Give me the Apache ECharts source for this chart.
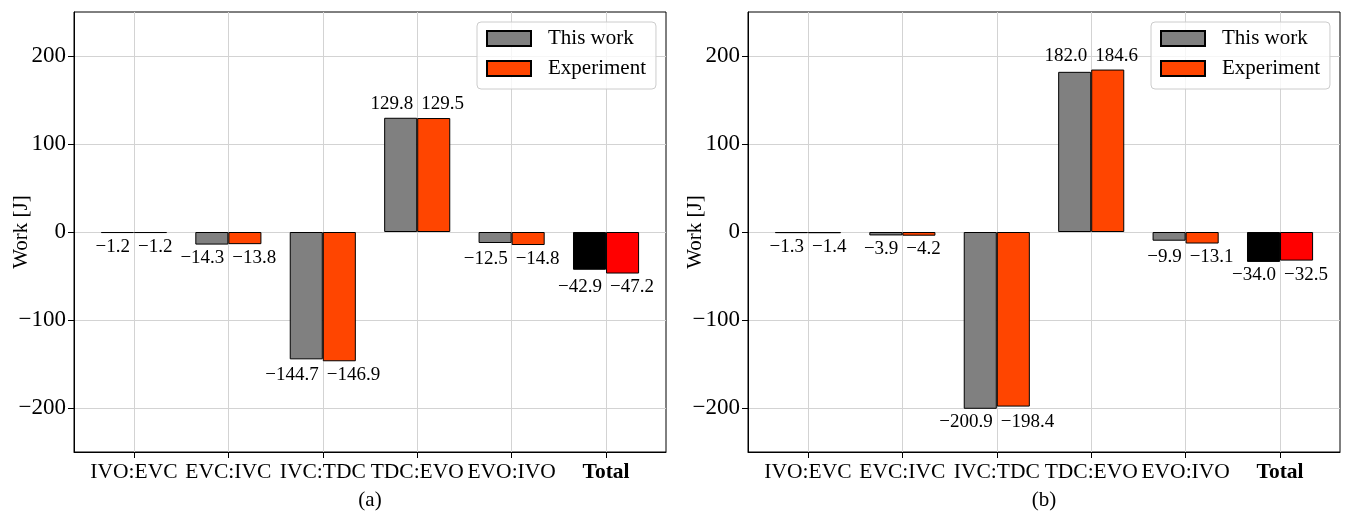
<!DOCTYPE html>
<html><head><meta charset="utf-8">
<script src="https://cdn.jsdelivr.net/npm/echarts@6/dist/echarts.min.js"></script>
<style>html,body{margin:0;padding:0;background:#fff}#c{width:1347px;height:516px}</style>
</head><body><div id="c"></div>
<script>
const categories = ['IVO:EVC','EVC:IVC','IVC:TDC','TDC:EVO','EVO:IVO','Total'];
const seriesNames = ['This work','Experiment'];
const workA_model = [-1.2,-14.3,-144.7,129.8,-12.5,-42.9];
const workA_exp   = [-1.2,-13.8,-146.9,129.5,-14.8,-47.2];
const workB_model = [-1.3,-3.9,-200.9,182.0,-9.9,-34.0];
const workB_exp   = [-1.4,-4.2,-198.4,184.6,-13.1,-32.5];
const yTicks = [-200,-100,0,100,200];
const panelLabels = ['(a)','(b)'];

const FONT = 'Liberation Serif';
const yMin = -250, yMax = 250, xMin = -0.635, xMax = 5.635;
const gridW = 592, gridH = 440, gridTop = 12;
const gridLefts = [74, 748];
const kY = gridH / (yMax - yMin);
const kX = gridW / (xMax - xMin);
const barHalf = kX * 0.35 / 2;
const colors = ['#808080', '#ff4500'];
const totalColors = ['#000000', '#ff0000'];

function fmt(v){ return (v < 0 ? '\u2212' : '') + Math.abs(v).toFixed(1); }

function buildData(vals, other, side){
  return vals.map((v, i) => {
    const o = other[i];
    const neg = v < 0;
    let dy;
    if (neg) { const m = Math.min(v, o); dy = (v - m) * kY; }
    else { const m = Math.max(v, o); dy = -(m - v) * kY; }
    const item = {
      value: [i, v],
      label: {
        position: neg ? 'bottom' : 'top',
        align: side === 0 ? 'right' : 'left',
        offset: [side === 0 ? barHalf - 4 : -(barHalf - 4), dy]
      }
    };
    if (i === categories.length - 1) item.itemStyle = { color: totalColors[side] };
    return item;
  });
}

const panels = [[workA_model, workA_exp], [workB_model, workB_exp]];
const grids = [], xAxes = [], yAxes = [], series = [], legends = [], graphics = [];
const xTickVals = categories.map((c, i) => i);

panels.forEach((p, gi) => {
  grids.push({ left: gridLefts[gi], top: gridTop, width: gridW, height: gridH,
    outerBoundsMode: 'none', containLabel: false,
    show: true, borderColor: '#000', borderWidth: 1, backgroundColor: 'transparent' });
  xAxes.push({
    type: 'value', gridIndex: gi, min: xMin, max: xMax,
    axisLine: { show: true, onZero: false, lineStyle: { color: '#000', width: 1 } },
    axisTick: { show: true, length: 6, inside: false, customValues: xTickVals, lineStyle: { color: '#000' } },
    axisLabel: { customValues: xTickVals, margin: 9, color: '#000', fontFamily: FONT, fontSize: 21.5,
      formatter: v => { const i = Math.round(v); return i === categories.length - 1 ? '{b|' + categories[i] + '}' : categories[i]; },
      rich: { b: { fontWeight: 'bold', fontFamily: FONT, fontSize: 21.5, color: '#000' } } },
    splitLine: { show: true, customValues: xTickVals, lineStyle: { color: '#d3d3d3', width: 1 } }
  });
  yAxes.push({
    type: 'value', gridIndex: gi, min: yMin, max: yMax, interval: 50,
    name: 'Work [J]', nameLocation: 'middle', nameGap: 42, nameMoveOverlap: false,
    nameTextStyle: { fontFamily: FONT, fontSize: 21, color: '#000' },
    axisLine: { show: true, onZero: false, lineStyle: { color: '#000', width: 1 } },
    axisTick: { show: true, length: 6, inside: false, customValues: yTicks, lineStyle: { color: '#000' } },
    axisLabel: { customValues: yTicks, margin: 8, color: '#000', fontFamily: FONT, fontSize: 23, formatter: v => v < 0 ? '\u2212' + Math.abs(v) : String(v) },
    splitLine: { show: true, customValues: yTicks, lineStyle: { color: '#d3d3d3', width: 1 } }
  });
  p.forEach((vals, si) => {
    series.push({
      type: 'bar', name: seriesNames[si], xAxisIndex: gi, yAxisIndex: gi,
      barWidth: '35%', barGap: '0%',
      itemStyle: { color: colors[si], borderColor: '#000', borderWidth: 1 },
      label: { show: true, distance: 4, color: '#000', fontFamily: FONT, fontSize: 19,
        formatter: prm => fmt(prm.value[1]) },
      emphasis: { disabled: true },
      data: buildData(vals, p[1 - si], si)
    });
  });
  legends.push({
    left: gridLefts[gi] + 403, top: 22, orient: 'vertical',
    data: seriesNames.map(n => ({ name: n, icon: 'rect' })), itemWidth: 44, itemHeight: 15, itemGap: 9,
    padding: [6, 10, 10, 9], borderColor: '#cccccc', borderWidth: 1, borderRadius: 4,
    backgroundColor: 'rgba(255,255,255,0.8)',
    textStyle: { fontFamily: FONT, fontSize: 21, color: '#000', lineHeight: 21, padding: [0, 0, 0, 12] },
    selectedMode: false
  });
  graphics.push({ type: 'text', x: gridLefts[gi] + gridW / 2, y: 500,
    style: { text: panelLabels[gi], fontFamily: FONT, fontSize: 21, fill: '#000', textAlign: 'center', textVerticalAlign: 'middle' } });
});

const chart = echarts.init(document.getElementById('c'), null, { renderer: 'canvas' });
chart.setOption({
  animation: false,
  backgroundColor: '#fff',
  grid: grids, xAxis: xAxes, yAxis: yAxes, series: series, legend: legends, graphic: graphics
});
</script>
</body></html>
